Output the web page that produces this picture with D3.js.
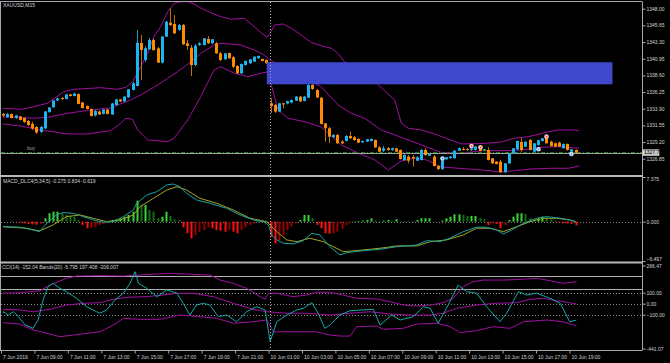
<!DOCTYPE html>
<html>
<head>
<meta charset="utf-8">
<script src="https://cdn.jsdelivr.net/npm/d3@7"></script>
<style>
html, body { margin: 0; padding: 0; background: #000; }
svg { display: block; }
text { font-family: "Liberation Sans", Arial, sans-serif; }
</style>
</head>
<body>
<svg id="chart" width="670" height="363"></svg>
<script>
// ---- Titles ----
const symbolTitle = "XAUUSD,M15";
const macdTitle = "MACD_DLC4(5,34,5) -0.275 0.834 -0.619";
const cciTitle = "CCI(14) -152.04 Bands(20) -5.795 197.408 -209.007";

// ---- Time axis (bar index -> label) ----
const timeTickBars = [0, 8, 16, 24, 32, 40, 48, 56, 64, 72, 80, 88, 96, 104, 112, 120, 128, 136];
const timeTickLabels = ["7 Jun 2019", "7 Jun 09:00", "7 Jun 11:00", "7 Jun 13:00", "7 Jun 15:00", "7 Jun 17:00",
  "7 Jun 19:00", "7 Jun 21:00", "10 Jun 01:00", "10 Jun 03:00", "10 Jun 05:00", "10 Jun 07:00", "10 Jun 09:00",
  "10 Jun 11:00", "10 Jun 13:00", "10 Jun 15:00", "10 Jun 17:00", "10 Jun 19:00"];
const separatorBar = 64; // day separator 10 Jun 01:00

// ---- Price axis ----
const priceTicks = [1348.00, 1345.65, 1343.30, 1340.95, 1338.60, 1336.25, 1333.90, 1331.55, 1329.20, 1326.85];
const bidPrice = 1327.71;
const buyPrice = 1327.85;

// ---- Candles [open, high, low, close], one per M15 bar ----
const candles = [
  [1333.16,1333.30,1332.73,1332.94],[1332.73,1333.30,1332.59,1333.16],[1333.16,1333.23,1332.52,1332.59],[1332.59,1333.01,1332.45,1332.94],
  [1332.80,1332.87,1332.24,1332.31],[1332.59,1332.66,1331.89,1332.03],[1332.17,1332.31,1331.46,1331.60],[1331.75,1332.03,1330.90,1331.11],
  [1331.32,1331.46,1330.34,1330.55],[1330.62,1331.46,1330.48,1331.32],[1331.11,1333.58,1331.04,1333.51],[1333.44,1334.14,1333.30,1334.07],
  [1334.10,1335.13,1334.00,1335.06],[1335.06,1335.48,1334.99,1335.34],[1335.41,1335.55,1335.13,1335.27],[1335.27,1335.98,1335.20,1335.91],
  [1335.91,1335.98,1335.62,1335.69],[1335.69,1336.12,1335.62,1336.05],[1335.98,1336.05,1334.50,1334.57],[1334.78,1334.85,1333.93,1334.00],
  [1334.28,1334.35,1333.79,1333.86],[1333.86,1333.93,1332.80,1332.87],[1332.94,1333.72,1332.80,1333.58],[1333.51,1333.65,1333.01,1333.09],
  [1333.16,1333.86,1333.09,1333.79],[1333.79,1333.86,1333.09,1333.16],[1333.09,1334.71,1333.01,1334.64],[1334.42,1335.27,1334.28,1335.20],
  [1335.20,1335.27,1334.85,1334.92],[1334.92,1335.69,1334.85,1335.60],[1335.51,1336.68,1335.41,1336.64],[1336.54,1337.71,1336.47,1337.48],
  [1337.10,1345.00,1337.03,1343.21],[1343.17,1344.29,1337.95,1342.18],[1340.77,1342.74,1340.49,1342.42],[1342.28,1343.87,1342.18,1343.59],
  [1343.59,1343.73,1342.04,1342.18],[1342.42,1342.60,1340.35,1340.39],[1340.39,1344.15,1340.28,1344.06],[1344.06,1346.27,1344.01,1346.17],
  [1346.03,1348.06,1345.56,1345.70],[1345.85,1347.11,1344.44,1344.53],[1345.00,1345.85,1344.86,1345.70],[1345.70,1345.85,1342.88,1342.98],
  [1343.12,1343.59,1342.18,1342.74],[1342.50,1342.88,1338.51,1340.06],[1340.06,1343.03,1339.92,1342.79],[1342.88,1343.31,1342.74,1343.12],
  [1342.88,1343.87,1342.81,1343.83],[1343.73,1344.15,1343.03,1343.12],[1343.12,1343.73,1343.03,1343.69],[1343.12,1343.31,1341.62,1341.71],
  [1341.71,1341.90,1340.63,1340.77],[1340.87,1341.76,1340.77,1341.71],[1341.76,1341.80,1340.91,1341.01],[1341.15,1341.33,1339.60,1339.83],
  [1339.92,1340.06,1338.80,1338.89],[1338.89,1340.28,1338.80,1340.21],[1340.06,1340.70,1339.99,1340.63],[1340.30,1340.91,1340.21,1340.87],
  [1340.53,1341.26,1340.49,1341.24],[1341.01,1341.40,1340.98,1341.33],[1340.91,1340.98,1340.56,1340.63],[1340.77,1340.84,1340.21,1340.30],
  [1334.66,1335.37,1333.30,1334.28],[1334.42,1334.57,1333.30,1333.48],[1333.48,1334.71,1333.44,1334.66],[1334.66,1334.71,1333.96,1334.50],
  [1334.64,1335.03,1334.50,1334.99],[1334.78,1335.20,1334.64,1335.13],[1335.03,1335.69,1334.99,1335.60],[1335.60,1335.69,1334.85,1334.92],
  [1334.99,1335.69,1334.92,1335.60],[1335.45,1337.39,1335.41,1337.24],[1337.24,1337.39,1336.54,1336.68],[1336.54,1336.68,1335.41,1335.48],
  [1335.45,1335.55,1331.68,1331.75],[1331.82,1331.89,1329.25,1331.14],[1331.14,1331.32,1329.07,1329.96],[1329.87,1330.34,1329.77,1330.19],
  [1330.19,1330.34,1328.93,1329.02],[1329.25,1329.49,1328.93,1329.02],[1329.35,1330.19,1329.28,1330.05],[1330.05,1330.66,1329.63,1329.73],
  [1329.87,1330.05,1329.35,1329.49],[1329.63,1329.77,1329.07,1329.11],[1329.17,1329.42,1329.07,1329.35],[1329.25,1329.63,1329.21,1329.59],
  [1329.35,1329.70,1329.28,1329.63],[1329.49,1329.56,1328.36,1328.46],[1328.46,1328.64,1327.80,1327.84],[1327.98,1328.64,1327.80,1328.32],
  [1328.32,1328.50,1327.94,1328.08],[1328.08,1328.43,1327.94,1328.32],[1328.32,1328.36,1327.80,1327.84],[1328.08,1328.15,1326.74,1326.81],
  [1326.67,1327.52,1326.53,1327.37],[1327.14,1327.37,1326.20,1326.57],[1327.09,1327.37,1325.73,1326.88],[1326.57,1327.23,1326.53,1327.05],
  [1326.67,1328.22,1326.60,1328.08],[1328.08,1328.32,1327.23,1327.37],[1327.28,1327.66,1327.23,1327.52],[1327.14,1327.37,1325.75,1325.82],
  [1325.82,1325.96,1325.26,1325.40],[1325.40,1326.67,1325.26,1326.60],[1326.77,1327.09,1326.67,1327.05],[1326.91,1327.23,1326.88,1327.14],
  [1326.91,1328.08,1326.88,1327.98],[1327.98,1328.43,1327.94,1328.32],[1328.22,1328.50,1328.01,1328.08],[1328.18,1328.36,1328.01,1328.08],
  [1328.08,1328.43,1327.94,1328.29],[1328.08,1328.64,1328.01,1328.57],[1328.22,1328.50,1327.87,1327.94],[1328.15,1328.22,1328.01,1328.15],
  [1328.08,1328.46,1326.60,1326.67],[1326.91,1326.95,1326.11,1326.20],[1326.43,1326.53,1326.04,1326.11],[1326.43,1326.67,1324.84,1324.94],
  [1324.94,1326.25,1324.84,1326.20],[1326.20,1327.66,1326.11,1327.61],[1327.61,1328.36,1327.52,1328.32],[1328.18,1329.39,1328.08,1329.35],
  [1329.21,1329.77,1327.80,1328.08],[1328.55,1329.28,1328.50,1329.25],[1329.49,1329.63,1328.01,1328.08],[1327.84,1329.07,1327.80,1329.02],
  [1328.78,1329.49,1328.71,1329.45],[1329.35,1329.77,1329.28,1329.73],[1329.73,1329.91,1329.00,1329.02],[1329.25,1329.42,1328.57,1328.64],
  [1329.02,1329.14,1328.50,1328.55],[1329.11,1329.28,1328.50,1328.55],[1328.32,1329.00,1328.29,1328.93],[1328.93,1329.00,1328.01,1328.08],
  [1327.84,1328.22,1327.80,1328.18],[1328.08,1328.15,1327.66,1327.70]
];

// ---- Bollinger bands on price, read as [bar, price] points ----
const bbUpper = [[0,1333.96],[4.5,1333.82],[7.4,1334.19],[10.6,1334.66],[14.5,1336.30],[17,1336.64],[23.4,1336.86],[27.4,1336.64],
  [29.4,1336.92],[31,1337.71],[33,1339.83],[34.6,1341.71],[36.1,1344.06],[37.7,1345.47],[39.4,1347.58],[41,1348.76],[42.5,1348.99],
  [44.2,1348.99],[45.7,1348.67],[47.4,1348.06],[49.7,1347.44],[52.1,1346.88],[54.6,1346.51],[57.7,1346.65],[60.1,1345.47],[62.1,1344.44],
  [63.2,1343.97],[64.1,1344.76],[65,1345.70],[67,1345.85],[69,1345.24],[71.3,1344.29],[73.8,1343.21],[76.1,1342.79],[78.5,1342.42],
  [80.1,1341.71],[81.7,1340.53],[85,1339.36],[89.8,1337.24],[93.7,1335.13],[95.3,1331.84],[97,1331.14],[100.1,1330.90],[103.3,1330.34],
  [106.6,1329.59],[109.7,1328.93],[115,1329.00],[119.3,1329.21],[122.2,1329.73],[125.8,1329.96],[129,1330.43],[130.6,1330.66],
  [133,1330.90],[137,1330.90],[137.8,1330.76]];
const bbMiddle = [[0,1332.73],[4.2,1332.69],[7.3,1332.55],[10.6,1332.69],[15.4,1333.25],[20.2,1333.65],[25.7,1334.00],[30.5,1335.13],
  [32.9,1335.83],[37,1337.24],[39.4,1338.19],[41.8,1339.12],[45,1340.53],[47.3,1341.71],[50.5,1342.88],[52.1,1343.12],[56.9,1342.88],
  [60.1,1342.18],[62.5,1341.47],[63.7,1340.87],[69,1338.94],[72.5,1338.09],[76.1,1337.01],[80.2,1334.42],[83.3,1333.25],[86.5,1332.55],
  [90.5,1330.90],[97,1329.49],[100.1,1328.78],[104.9,1327.73],[109.7,1327.61],[114.5,1327.98],[120.9,1327.98],[124.1,1328.08],
  [129,1328.46],[133,1328.55],[137.8,1328.32]];
const bbLower = [[0,1331.75],[4.2,1331.46],[9,1330.90],[15.4,1330.34],[20.2,1330.34],[25.7,1330.80],[28.2,1331.84],[29.3,1332.55],
  [31,1332.41],[32.2,1330.90],[34.6,1329.49],[39.4,1329.25],[40.9,1329.73],[44.2,1332.31],[47.3,1335.60],[50.5,1339.36],[52.1,1339.83],
  [55.3,1338.89],[58.6,1338.42],[61.7,1338.89],[63.4,1339.12],[64.2,1337.24],[65.8,1333.72],[68.2,1332.55],[72.1,1332.07],[76.1,1331.32],
  [81,1328.78],[85,1327.61],[89,1326.67],[92.2,1325.26],[95.3,1326.53],[98.5,1326.95],[101.3,1326.67],[104.9,1325.68],[109.7,1325.47],
  [114.5,1325.26],[119.2,1324.98],[122.8,1325.19],[126.5,1325.40],[131.3,1325.50],[135.3,1325.50],[137.8,1325.82]];

// ---- Objects on the price chart ----
const zoneBars = [63.1, 145.8];          // blue rectangle, bar span
const zonePrices = [1340.45, 1337.34];   // blue rectangle, top / bottom
const sellMarks = [[112, 1328.64], [114, 1328.46], [130, 1329.96]];
const buyMarks = [[105, 1326.88], [128, 1328.18], [136, 1327.52]];

// ---- MACD ----
const macdTicks = [7.375, 0, -6.497];
const macdHist = [0,0,-0.05,-0.1,-0.15,-0.3,-0.4,-0.45,-0.5,-0.4,0.56,1.39,1.65,1.65,1.39,1.1,0.94,0.83,0.28,-0.54,
  -1.09,-1.0,-0.93,-0.54,-0.38,-0.1,0.28,0.39,0.56,0.83,1.1,1.65,3.47,2.76,2.76,1.93,1.65,0.56,0.83,1.65,
  0.94,0.39,0.28,-0.93,-1.92,-2.74,-2.2,-1.65,-1.37,-0.93,-1.09,-1.37,-1.49,-1.65,-1.37,-1.65,-1.92,-1.37,-0.93,-0.54,
  -0.26,0.1,0.05,0.1,-2.48,-3.57,-3.02,-2.2,-1.37,-0.83,-0.3,0.28,1.1,1.1,0.56,-0.54,-1.09,-1.92,-2.0,-1.92,
  -1.65,-1.2,-0.54,-0.1,0.05,0.1,0.17,0.28,0.56,0.17,0.1,0.17,0.28,0.17,0.39,0.05,0.05,0.05,0.05,0.28,
  0.56,0.56,0.56,0.05,0.02,0.17,0.56,0.83,1.21,1.21,1.1,0.94,0.94,0.94,0.56,0.39,-0.54,-0.27,-0.38,-1.09,
  -0.54,0.28,0.83,1.39,1.39,1.27,0.56,0.39,0.56,0.83,0.7,0.39,0.17,-0.16,-0.27,-0.27,-0.38,-0.62];
const macdMain = [[0,-0.83],[4.1,-0.92],[7.2,-1.37],[8.7,-1.65],[10.5,-0.26],[12.8,1.11],[14.4,1.49],[16.8,1.39],[19.2,0.83],
  [21.6,0.28],[24,-0.10],[26.4,0],[28.8,0.83],[31.2,1.93],[32,3.04],[34.4,4.41],[36.8,4.95],[39.2,6.06],[40.7,6.22],[42.3,5.78],
  [43.9,4.69],[46.3,3.58],[49.5,3.04],[53.5,2.21],[56.7,1.11],[59.9,0.28],[62.3,0],[63.5,-0.54],[64.3,-2.20],[65.5,-3.02],
  [67.1,-3.57],[69.4,-3.68],[71.8,-3.14],[73.9,-1.92],[75.8,-2.20],[78.2,-4.13],[80.6,-5.50],[82.2,-5.12],[86.2,-4.79],
  [90.2,-4.56],[94.2,-4.13],[99,-3.85],[101.4,-3.14],[104.5,-3.30],[106.9,-2.74],[110.1,-1.65],[113.3,-0.92],[115.7,-0.92],
  [118.1,-1.37],[119.7,-2.03],[121.7,-1.37],[124.5,-0.26],[127.7,0.56],[130.1,0.83],[133.3,0.56],[135.6,0.28],[137,0]];
const macdSignal = [[0,-0.83],[5.7,-1.09],[8.7,-1.54],[12,-0.54],[15.2,0.83],[18.4,1.11],[21.6,0.56],[24.8,0],[28,0.28],
  [31.2,1.11],[32.8,2.48],[36,3.86],[39.2,5.23],[41.6,5.78],[43.9,5.23],[47.1,3.86],[51.1,3.04],[55.1,1.93],[59.1,0.56],
  [63.1,0],[65.5,-1.65],[67.9,-3.02],[70.3,-3.30],[73.4,-2.74],[76.6,-3.30],[78.2,-3.85],[81.4,-4.95],[84.6,-4.79],[90.2,-4.39],
  [94.2,-4.01],[99,-4.01],[102.2,-3.30],[106.1,-3.02],[110.1,-2.20],[113.3,-1.09],[116.5,-1.09],[119.7,-1.65],[122.9,-0.83],
  [126.1,0],[129.3,0.56],[132.5,0.56],[135.6,0.28],[137,0]];

// ---- CCI with bands ----
const cciLevels = [100, 0, -100];
const cciEdgeLabels = ["266.47", "-441.07"];
const cciLines = [252, 131];
const cciValues = [[0,-87],[0.1,-73],[1.3,-103],[2.5,-73],[3.7,-118],[5.3,-194],[7.2,-224],[8.4,-148],[9.6,34],[10.8,155],
  [12,185],[13.6,140],[15.2,109],[17.6,49],[20,-27],[22.4,-73],[23.2,-87],[24.8,-57],[26.8,34],[28.8,95],[30.4,185],[31.6,291],
  [32.4,185],[34.4,140],[36.8,64],[39.2,125],[41.6,95],[43.1,4],[44.7,-103],[46.3,-12],[47.9,4],[49.5,-12],[51.5,-118],
  [53.5,-103],[55.9,-164],[58.3,-73],[60.7,-27],[62.7,-57],[63.9,-345],[65.5,-164],[67.9,-103],[70.3,-57],[71.8,-42],[73.9,9],
  [75.4,-87],[77,-224],[78.2,-194],[80.6,-103],[83,-64],[88.6,-51],[90.2,-194],[93,-103],[95,-148],[98.2,-118],[100.6,-27],
  [102.2,-42],[104.1,-178],[106.1,-42],[108.9,170],[110.9,109],[113.3,95],[115.7,-27],[118.9,-164],[120.5,-87],[123.3,109],
  [125.3,79],[127.7,95],[130.9,49],[133.3,4],[135.6,-164],[137.1,-150]];
const cciUpper = [[0,95],[4.1,100],[8.9,118],[11.2,170],[15.2,231],[17.6,252],[23.2,255],[28.8,252],[32.8,261],[36.8,270],
  [40,276],[43.9,270],[49.5,261],[51.9,215],[55.1,185],[58.3,140],[61.5,64],[62.7,40],[63.5,95],[65.5,95],[69.4,64],[72.7,79],
  [75,104],[78.2,104],[81.4,79],[84.6,49],[89.4,43],[92.6,18],[95.8,-12],[99,-21],[102.2,-12],[105.3,9],[107.7,49],[110.1,155],
  [112.5,200],[114.9,215],[119.7,215],[124.5,222],[127.7,231],[130.9,209],[134,185],[137.2,200]];
const cciMiddle = [[0,-51],[4.1,-57],[7.2,-73],[11.2,-51],[15.2,-12],[19.2,4],[23.2,9],[26.4,40],[29.6,58],[34.4,64],[38.4,79],
  [41.6,95],[45.5,95],[50.3,64],[55.1,4],[59.9,-51],[63.1,-73],[67.9,-87],[72.7,-87],[78.2,-103],[83,-87],[87.8,-73],[92.6,-94],
  [97.4,-103],[102.2,-103],[105.3,-87],[108.5,-42],[113.3,-12],[118.1,4],[122.9,9],[126.1,40],[129.3,49],[132.5,27],[135.6,9],
  [137.2,-3]];
const cciLower = [[0,-173],[4.1,-185],[7.2,-239],[11.2,-275],[13.6,-300],[16.8,-285],[23.2,-255],[26.4,-194],[28.8,-133],
  [32.8,-142],[37.6,-142],[42.3,-103],[47.1,-118],[51.1,-133],[55.1,-178],[59.9,-164],[63.1,-148],[64.7,-255],[69.4,-255],
  [75,-255],[78.2,-285],[80.6,-294],[83,-294],[84.6,-209],[89.4,-203],[91,-233],[95.8,-224],[99,-185],[103.8,-178],[107,-209],
  [109.4,-264],[113.3,-245],[117.3,-209],[121.3,-224],[124.5,-164],[130.1,-148],[134,-164],[137.2,-203]];

// ---- Colours ----
const bullColor = "#1eb4f0", bearColor = "#ff8c00", dojiColor = "#00ff00";
const bullWick = "#1896c8", bearWick = "#c06e08";
const bandColor = "#a010a0";
const frameColor = "#a8a8a8";
const textColor = "#d4d4d4";

/**
 * Draw the whole MetaTrader style chart
 */
function drawChart() {
    const svg = d3.select("#chart");
    svg.append("rect").attr("width", 670).attr("height", 363).attr("fill", "#000");

    // Panel geometry
    const left = 1, right = 642;
    const mainTop = 2, mainBottom = 175;
    const macdTop = 177, macdBottom = 261.5;
    const cciTop = 263.5, cciBottom = 350;

    // Scales
    const x = d3.scaleLinear().domain([0, 137]).range([3, 3 + 137 * 4.18]);
    const yPrice = d3.scaleLinear().domain([1326.85, 1348.00]).range([158.7, 8.7]);
    const yMacd = d3.scaleLinear().domain([-6.497, 7.375]).range([261, 177]);
    const yCci = d3.scaleLinear().domain([-100, 100]).range([314.7, 292.7]);

    // Clip each panel
    const defs = svg.append("defs");
    function addClip(id, y0, y1) {
        defs.append("clipPath").attr("id", id).append("rect")
        .attr("x", left).attr("y", y0).attr("width", right - left).attr("height", y1 - y0);
    }
    addClip("clipMain", mainTop, mainBottom);
    addClip("clipMacd", macdTop, macdBottom);
    addClip("clipCci", cciTop, cciBottom);

    const gMain = svg.append("g").attr("clip-path", "url(#clipMain)");
    const gMacd = svg.append("g").attr("clip-path", "url(#clipMacd)");
    const gCci = svg.append("g").attr("clip-path", "url(#clipCci)");

    // ###############
    // # Price panel #
    // ###############
    const priceLine = d3.line().x(d => x(d[0])).y(d => yPrice(d[1]));
    [bbUpper, bbMiddle, bbLower].forEach(band => {
        gMain.append("path").attr("d", priceLine(band))
        .attr("fill", "none").attr("stroke", bandColor).attr("stroke-width", 1);
    });

    // buy order line and bid line
    gMain.append("line")
    .attr("x1", left).attr("x2", right)
    .attr("y1", Math.round(yPrice(buyPrice)) + 0.5).attr("y2", Math.round(yPrice(buyPrice)) + 0.5)
    .attr("stroke", "#1f7a1f").attr("stroke-dasharray", "4,2,1,2");
    gMain.append("line")
    .attr("x1", left).attr("x2", right)
    .attr("y1", Math.round(yPrice(bidPrice)) + 0.5).attr("y2", Math.round(yPrice(bidPrice)) + 0.5)
    .attr("stroke", "#a0a0a0");
    gMain.append("text").attr("x", 27).attr("y", yPrice(buyPrice) - 1.6)
    .attr("font-size", 5).attr("fill", "#a0a0a0").text("buy");

    // candles
    const cx = i => Math.round(x(i));
    gMain.selectAll("line.wick").data(candles).join("line")
    .attr("class", "wick")
    .attr("x1", (d, i) => cx(i) + 0.5).attr("x2", (d, i) => cx(i) + 0.5)
    .attr("y1", d => yPrice(d[1])).attr("y2", d => yPrice(d[2]))
    .attr("stroke", d => d[3] > d[0] ? bullWick : (d[3] < d[0] ? bearWick : dojiColor))
    .attr("stroke-width", 1);

    gMain.selectAll("rect.body").data(candles).join("rect")
    .attr("class", "body")
    .attr("x", (d, i) => cx(i) - 1).attr("width", 3)
    .attr("y", d => yPrice(Math.max(d[0], d[3])))
    .attr("height", d => Math.max(1, Math.abs(yPrice(d[0]) - yPrice(d[3]))))
    .attr("fill", d => d[3] > d[0] ? bullColor : (d[3] < d[0] ? bearColor : dojiColor));

    // blue zone rectangle
    gMain.append("rect")
    .attr("x", x(zoneBars[0])).attr("width", x(zoneBars[1]) - x(zoneBars[0]))
    .attr("y", yPrice(zonePrices[0])).attr("height", yPrice(zonePrices[1]) - yPrice(zonePrices[0]))
    .attr("fill", "#3f48cc");

    // signal marks
    function drawMarks(data, outer, inner) {
        const g = gMain.append("g");
        g.selectAll("circle").data(data).join("circle")
        .attr("cx", d => cx(d[0]) + 0.5).attr("cy", d => yPrice(d[1]))
        .attr("r", 2.3).attr("fill", outer);
        g.selectAll("rect").data(data).join("rect")
        .attr("x", d => cx(d[0])).attr("y", d => yPrice(d[1]) - 0.5)
        .attr("width", 1.2).attr("height", 1.2).attr("fill", inner);
    }
    drawMarks(sellMarks, "#ffc4c4", "#e02828");
    drawMarks(buyMarks, "#c8e4ff", "#1d7fe0");

    // ##############
    // # MACD panel #
    // ##############
    gMacd.append("line")
    .attr("x1", left).attr("x2", right)
    .attr("y1", Math.round(yMacd(0)) + 0.5).attr("y2", Math.round(yMacd(0)) + 0.5)
    .attr("stroke", "#808080").attr("stroke-dasharray", "1,2");

    gMacd.selectAll("rect.hist").data(macdHist).join("rect")
    .attr("class", "hist")
    .attr("x", (d, i) => cx(i) - 0.5).attr("width", 2)
    .attr("y", d => Math.min(yMacd(d), yMacd(0)))
    .attr("height", d => Math.abs(yMacd(d) - yMacd(0)))
    .attr("fill", (d, i) => {
        const prev = i > 0 ? macdHist[i - 1] : d;
        if (d >= 0) return d >= prev ? "#3ad23a" : "#157015";
        return d <= prev ? "#ff1010" : "#9a0000";
    });

    const macdLine = d3.line().x(d => x(d[0])).y(d => yMacd(d[1]));
    gMacd.append("path").attr("d", macdLine(macdSignal))
    .attr("fill", "none").attr("stroke", "#a6a61c").attr("stroke-width", 1);
    gMacd.append("path").attr("d", macdLine(macdMain))
    .attr("fill", "none").attr("stroke", "#18a4a4").attr("stroke-width", 1);

    // #############
    // # CCI panel #
    // #############
    cciLines.forEach(v => {
        gCci.append("line").attr("x1", left).attr("x2", right)
        .attr("y1", Math.round(yCci(v)) + 0.5).attr("y2", Math.round(yCci(v)) + 0.5)
        .attr("stroke", "#b0b0b0");
    });
    cciLevels.forEach(v => {
        gCci.append("line").attr("x1", left).attr("x2", right)
        .attr("y1", Math.round(yCci(v)) + 0.5).attr("y2", Math.round(yCci(v)) + 0.5)
        .attr("stroke", "#8a8a8a").attr("stroke-dasharray", "1,2");
    });

    const cciLine = d3.line().x(d => x(d[0])).y(d => yCci(d[1]));
    [cciUpper, cciMiddle, cciLower].forEach(band => {
        gCci.append("path").attr("d", cciLine(band))
        .attr("fill", "none").attr("stroke", bandColor).attr("stroke-width", 1);
    });
    gCci.append("path").attr("d", cciLine(cciValues))
    .attr("fill", "none").attr("stroke", "#14a8a8").attr("stroke-width", 1);

    // ##########
    // # Frames #
    // ##########
    svg.append("line").attr("x1", 0).attr("x2", right).attr("y1", 1.5).attr("y2", 1.5).attr("stroke", frameColor);
    svg.append("line").attr("x1", 0.5).attr("x2", 0.5).attr("y1", 1.5).attr("y2", cciBottom).attr("stroke", frameColor);
    svg.append("line").attr("x1", right + 0.5).attr("x2", right + 0.5).attr("y1", 1.5).attr("y2", cciBottom + 0.5).attr("stroke", frameColor);
    svg.append("rect").attr("x", 0).attr("y", mainBottom).attr("width", right + 1).attr("height", 2).attr("fill", "#b8b8b8");
    svg.append("rect").attr("x", 0).attr("y", macdBottom).attr("width", right + 1).attr("height", 2).attr("fill", "#b8b8b8");
    svg.append("line").attr("x1", 0).attr("x2", right).attr("y1", cciBottom + 0.5).attr("y2", cciBottom + 0.5).attr("stroke", frameColor);

    // day separator
    svg.append("line")
    .attr("x1", cx(separatorBar) - 0.5).attr("x2", cx(separatorBar) - 0.5)
    .attr("y1", mainTop).attr("y2", cciBottom)
    .attr("stroke", "#b0b0b0").attr("stroke-dasharray", "1,2");

    // ########
    // # Axes #
    // ########
    function styleAxis(g) {
        g.select(".domain").remove();
        g.selectAll(".tick line").attr("stroke", frameColor);
        g.selectAll(".tick text").attr("fill", textColor).attr("font-size", 5)
        .attr("font-family", "Liberation Sans, Arial, sans-serif");
    }

    svg.append("g").attr("transform", "translate(" + (right + 0.5) + ",0)")
    .call(d3.axisRight(yPrice).tickValues(priceTicks).tickFormat(d3.format(".2f")).tickSize(3).tickPadding(1))
    .call(styleAxis);

    const macdAxis = svg.append("g").attr("transform", "translate(" + (right + 0.5) + ",0)")
    .call(d3.axisRight(yMacd).tickValues(macdTicks).tickFormat(d3.format(".3f")).tickSize(3).tickPadding(1))
    .call(styleAxis);
    macdAxis.selectAll(".tick text").attr("y", d => d === macdTicks[0] ? 2 : (d === macdTicks[2] ? -2.5 : 0));

    svg.append("g").attr("transform", "translate(" + (right + 0.5) + ",0)")
    .call(d3.axisRight(yCci).tickValues(cciLevels).tickFormat(d3.format(".2f")).tickSize(3).tickPadding(1))
    .call(styleAxis);
    const edgeY = [cciTop + 2.5, cciBottom - 1];
    cciEdgeLabels.forEach((label, i) => {
        svg.append("line").attr("x1", right + 0.5).attr("x2", right + 3.5)
        .attr("y1", edgeY[i]).attr("y2", edgeY[i]).attr("stroke", frameColor);
        svg.append("text").attr("x", right + 4.5).attr("y", edgeY[i]).attr("dy", "0.32em")
        .attr("font-size", 5).attr("fill", textColor).text(label);
    });

    // bid price box
    const by = yPrice(bidPrice);
    svg.append("rect").attr("x", right + 1).attr("y", by - 2.8).attr("width", 16).attr("height", 5.6)
    .attr("fill", "#c8c8c8").attr("stroke", "#ffffff").attr("stroke-width", 0.5);
    svg.append("text").attr("x", right + 2).attr("y", by).attr("dy", "0.32em")
    .attr("font-size", 5).attr("fill", "#000").text(d3.format(".2f")(bidPrice));

    // time axis
    const timeAxis = svg.append("g").attr("transform", "translate(-2," + (cciBottom + 0.5) + ")")
    .call(d3.axisBottom(x).tickValues(timeTickBars).tickFormat((d, i) => timeTickLabels[i]).tickSize(3))
    .call(styleAxis);
    timeAxis.selectAll(".tick text").attr("text-anchor", "start").attr("x", 1.5).attr("y", 8).attr("dy", 0);

    // titles
    svg.append("text").attr("x", 3).attr("y", 6.8).attr("font-size", 5).attr("fill", textColor).text(symbolTitle);
    svg.append("text").attr("x", 3).attr("y", 183.3).attr("font-size", 5).attr("fill", textColor).text(macdTitle);
    svg.append("text").attr("x", 2).attr("y", 269).attr("font-size", 5).attr("fill", textColor).text(cciTitle);
}

drawChart();
</script>
</body>
</html>
